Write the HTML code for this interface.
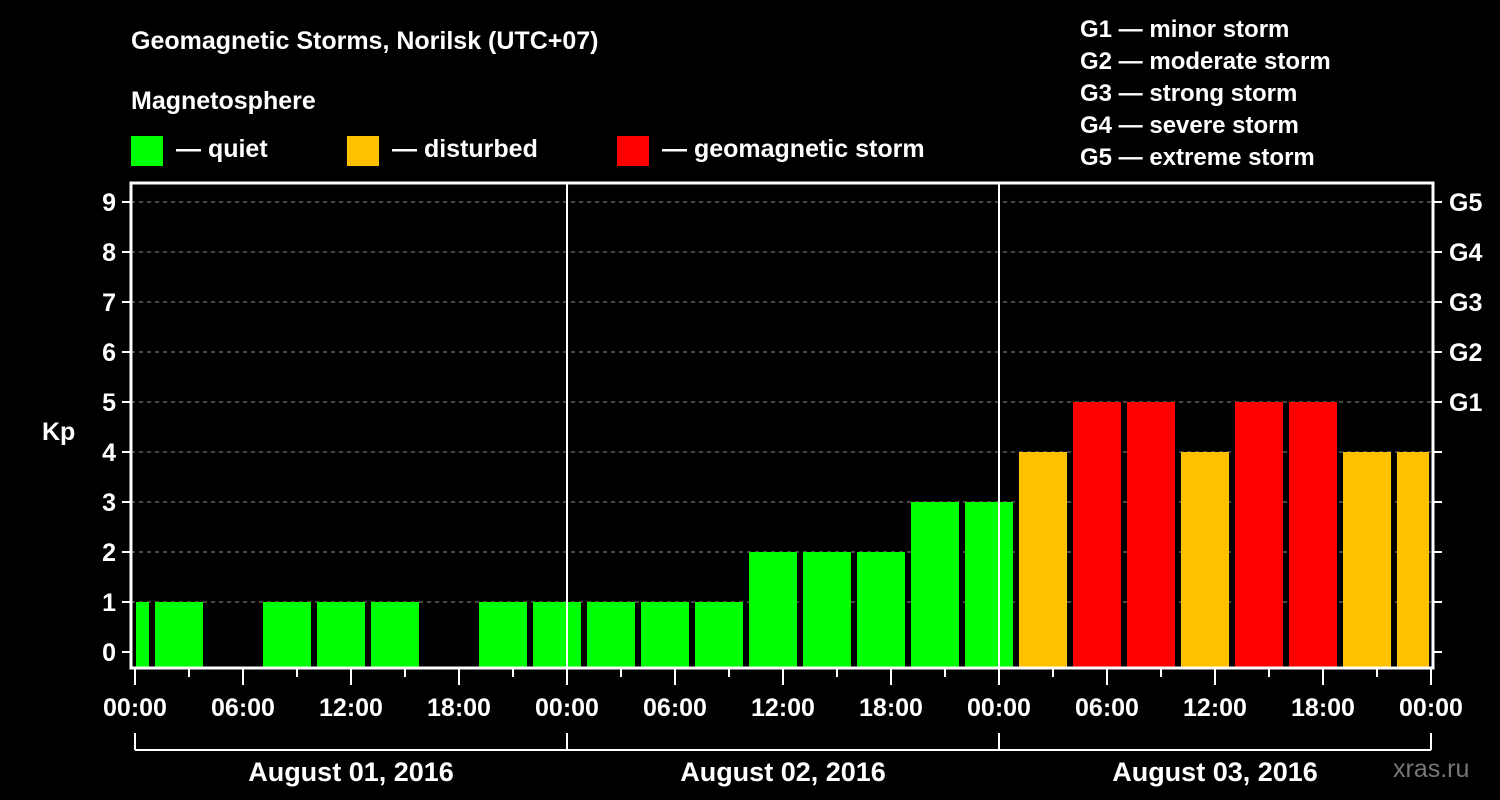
<!DOCTYPE html>
<html><head><meta charset="utf-8"><style>
html,body{margin:0;padding:0;background:#000;}
svg{display:block;font-family:"Liberation Sans",Arial,sans-serif;font-weight:bold;}
</style></head><body>
<svg id="chart" width="1500" height="800" viewBox="0 0 1500 800" xmlns="http://www.w3.org/2000/svg">
<rect width="1500" height="800" fill="#000"/>
<text x="131" y="49" fill="#fff" font-size="25">Geomagnetic Storms, Norilsk (UTC+07)</text>
<text x="131" y="109" fill="#fff" font-size="25">Magnetosphere</text>
<g><rect x="131" y="136" width="32" height="30" fill="#00ff00"/><text x="176" y="157" fill="#fff" font-size="25">— quiet</text></g>
<g><rect x="347" y="136" width="32" height="30" fill="#ffc000"/><text x="392" y="157" fill="#fff" font-size="25">— disturbed</text></g>
<g><rect x="617" y="136" width="32" height="30" fill="#ff0000"/><text x="662" y="157" fill="#fff" font-size="25">— geomagnetic storm</text></g>
<g fill="#fff" font-size="24">
<text x="1080" y="37">G1 — minor storm</text>
<text x="1080" y="69">G2 — moderate storm</text>
<text x="1080" y="101">G3 — strong storm</text>
<text x="1080" y="133">G4 — severe storm</text>
<text x="1080" y="165">G5 — extreme storm</text>
</g>
<g id="grid"></g>
<g id="bars"></g>
<g id="axes"></g>
<text x="42" y="440" fill="#fff" font-size="25">Kp</text>
<text x="1393" y="777" fill="#777" font-size="25" font-weight="normal">xras.ru</text>
</svg>
<script>
const binStartHours=[-2,1,4,7,10,13,16,19,22,25,28,31,34,37,40,43,46,49,52,55,58,61,64,67,70];
const kpValues=[1,1,0,1,1,1,0,1,1,1,1,1,2,2,2,3,3,4,5,5,4,5,5,4,4];
const yTicks=[0,1,2,3,4,5,6,7,8,9];
const gLabels=["G1","G2","G3","G4","G5"];
const gLevels=[5,6,7,8,9];
const xTickLabels=["00:00","06:00","12:00","18:00","00:00","06:00","12:00","18:00","00:00","06:00","12:00","18:00","00:00"];
const dayLabels=["August 01, 2016","August 02, 2016","August 03, 2016"];

const NS="http://www.w3.org/2000/svg";
const L=131,R=1433,T=183,B=668;
const x0=135,pxH=18;
const xs=h=>x0+h*pxH;
const ys=v=>652-v*50;
function mk(tag,attrs,parent,txt){const e=document.createElementNS(NS,tag);for(const k in attrs)e.setAttribute(k,attrs[k]);if(txt!==undefined)e.textContent=txt;document.getElementById(parent).appendChild(e);return e;}
function color(v){return v>=5?"#ff0000":(v>=4?"#ffc000":"#00ff00");}

yTicks.forEach(v=>{if(v===0)return;
 const g=mk("line",{x1:L,x2:R,y1:ys(v),y2:ys(v),stroke:"#888","stroke-dasharray":"4,4","stroke-width":1},"grid");
 
 
});
binStartHours.forEach((h,i)=>{const v=kpValues[i];if(v<=0)return;
 let a=Math.max(xs(h)+2,L+5), b=Math.min(xs(h+3)-4,R-4);
 const r=mk("rect",{x:a,y:ys(v),width:b-a,height:B-ys(v),fill:color(v)},"bars");
 
 
});
[1,2].forEach(d=>{const l=mk("line",{x1:xs(d*24),x2:xs(d*24),y1:T,y2:B,stroke:"#fff","stroke-width":2},"axes");
 
 
});
const fr=mk("rect",{x:L,y:T,width:R-L,height:B-T,fill:"none",stroke:"#fff","stroke-width":3},"axes");


yTicks.forEach(v=>{
 mk("line",{x1:122,x2:L,y1:ys(v),y2:ys(v),stroke:"#fff","stroke-width":2},"axes");
 mk("line",{x1:R,x2:1442,y1:ys(v),y2:ys(v),stroke:"#fff","stroke-width":2},"axes");
 const t=mk("text",{x:116,y:ys(v)+9,fill:"#fff","font-size":25,"text-anchor":"end"},"axes",String(v));
 
 
});
gLabels.forEach((g,i)=>{const t=mk("text",{x:1449,y:ys(gLevels[i])+9,fill:"#fff","font-size":25},"axes",g);
 
 
});
for(let h=0;h<=72;h+=3){const major=h%6===0;
 mk("line",{x1:xs(h),x2:xs(h),y1:B,y2:major?685:677,stroke:"#fff","stroke-width":2},"axes");}
xTickLabels.forEach((s,i)=>{const t=mk("text",{x:xs(i*6),y:716,fill:"#fff","font-size":25,"text-anchor":"middle"},"axes",s);
 
 
});
mk("line",{x1:xs(0),x2:xs(72),y1:750,y2:750,stroke:"#fff","stroke-width":2},"axes");
for(let d=0;d<=3;d++)mk("line",{x1:xs(d*24),x2:xs(d*24),y1:733,y2:750,stroke:"#fff","stroke-width":2},"axes");
dayLabels.forEach((s,i)=>{const t=mk("text",{x:xs(i*24+12),y:781,fill:"#fff","font-size":27,"text-anchor":"middle"},"axes",s);
 
 
});
</script>
</body></html>
